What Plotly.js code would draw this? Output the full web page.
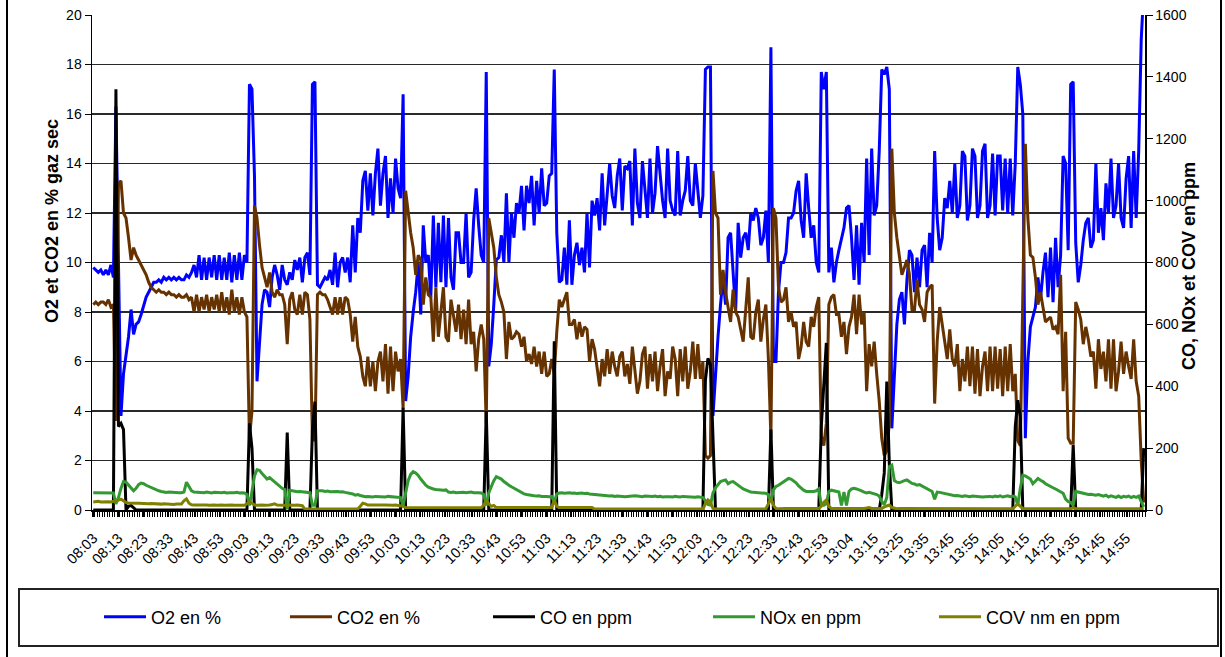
<!DOCTYPE html>
<html><head><meta charset="utf-8">
<script src="https://cdn.plot.ly/plotly-3.0.1.min.js"></script>
<style>html,body{margin:0;padding:0;background:#fff}#chart{width:1225px;height:657px}</style>
</head><body><div id="chart"></div>
<script>
const timeLabels = ["08:03","08:13","08:23","08:33","08:43","08:53","09:03","09:13","09:23","09:33","09:43","09:53","10:03","10:13","10:23","10:33","10:43","10:53","11:03","11:13","11:23","11:33","11:43","11:53","12:03","12:13","12:23","12:33","12:43","12:53","13:04","13:15","13:25","13:35","13:45","13:55","14:05","14:15","14:25","14:35","14:45","14:55"];

const o2 = [
9.8,9.7,9.6,9.7,9.5,9.7,9.5,9.9,9.4,16.3,
10,3.8,5.5,6.3,7.0,8.1,7.1,7.5,7.6,7.9,
8.3,8.6,8.8,9.0,9.2,9.2,9.3,9.2,9.4,9.3,
9.4,9.3,9.4,9.3,9.4,9.3,9.3,9.5,9.4,9.6,
9.9,9.4,10.3,9.3,10.2,9.3,10.2,9.4,10.3,9.3,
10.3,9.3,10.2,9.3,10.4,9.2,10.3,9.3,10.4,9.3,
10.3,10.0,17.2,17.0,13.5,5.2,6.9,8.3,8.9,8.8,
8.2,9.4,9.9,9.5,8.9,9.9,9.3,9.1,9.6,9.3,
10.1,9.7,10.2,9.2,10.2,10.4,9.5,17.2,17.3,9.1,
9.0,9.2,9.4,9.3,9.7,9.1,10.4,9.0,10.0,10.2,
9.6,10.2,9.2,11.5,9.6,11.8,11.2,13.3,13.7,12.1,
13.6,11.9,13.6,14.6,12.3,13.6,14.3,11.8,13.4,12.0,
14.2,13.0,12.6,16.8,4.4,5.4,7.0,8.0,8.8,10.0,
7.9,11.5,10.0,10.3,8.6,11.9,9.0,11.6,9.2,11.9,
9.0,11.8,9.4,8.9,11.2,11.2,10.0,10.0,12.0,9.4,
9.6,11.7,13.0,11.5,10.3,10.0,17.7,5.8,6.7,8.3,
10.1,10.2,11.1,10.0,12.8,10.0,12.0,11.0,12.4,12.0,
13.1,11.3,13.1,12.4,13.5,11.5,13.3,12.0,13.8,12.3,
12.4,13.5,13.6,17.8,11.2,9.2,9.3,10.6,9.1,11.7,
9.1,10.3,10.8,9.9,10.6,9.6,12.0,9.8,12.5,11.9,
12.6,11.3,13.6,11.5,12.6,14.0,12.7,12.2,13.5,14.2,
12.1,13.9,13.8,14.1,11.5,14.6,12.4,11.8,14.1,12.8,
11.8,14.2,12.0,12.8,14.7,13.6,12.5,11.8,14.6,12.5,
12.1,11.9,14.5,11.9,12.5,12.9,14.3,12.5,12.3,14.0,
12.9,11.8,12.7,17.8,17.9,17.9,3.8,5.6,7.0,8.3,
9.4,8.3,11.0,11.2,9.6,8.0,11.6,10.2,11.0,11.2,
10.5,12.0,11.7,12.2,11.8,10.7,11.0,12.1,10.0,18.7,
6.0,6.0,8.8,10.0,10.0,10.4,11.8,11.8,12.0,12.9,
13.3,11.7,11.0,13.6,12.2,11.0,11.5,10.0,9.6,17.7,
17.0,17.7,9.6,10.6,9.2,10.0,10.5,11.0,11.4,12.2,
12.3,11.0,9.3,11.5,9.1,11.6,10.0,14.2,10.3,14.6,
11.9,12.3,14.5,17.8,17.6,17.9,17.0,3.3,5.6,7.5,
8.5,8.8,7.5,9.3,10.5,10.3,8.8,10.2,9.0,10.5,
10.7,9.0,11.2,10.0,14.5,11.8,10.5,11.0,12.6,12.2,
13.3,12.0,14.0,11.8,12.3,14.5,14.3,11.7,12.3,14.6,
14.3,11.8,12.3,14.5,14.8,11.8,12.3,14.4,11.9,14.3,
14.3,12.1,14.2,12.0,14.2,11.9,14.0,17.9,17.2,16.0,
2.9,6.0,7.4,7.8,8.2,9.4,8.5,9.6,10.4,8.6,
10.6,8.4,11.0,9.0,10.3,14.3,14.0,10.5,17.2,17.3,
10.8,9.2,9.9,10.9,11.6,11.8,10.6,10.9,14.0,11.2,
12.2,10.9,13.2,12.0,14.2,11.8,12.3,14.0,11.8,11.4,
13.4,14.3,11.4,14.5,11.8,14.5,19.0,21
];

const co2 = [
8.3,8.4,8.3,8.4,8.4,8.3,8.5,8.2,8.3,3.6,
13.2,13.3,12.0,11.8,11.0,10.1,10.6,10.3,10.1,9.9,
9.7,9.5,9.2,9.0,8.9,8.8,8.9,8.8,8.8,8.7,
8.8,8.7,8.7,8.6,8.7,8.6,8.6,8.7,8.5,8.6,
8.0,8.7,8.0,8.6,8.1,8.7,8.0,8.6,8.1,8.7,
8.0,8.8,8.0,8.6,7.9,8.9,8.0,8.6,7.9,8.6,
8.0,7.8,2.9,4.0,12.3,11.8,10.7,9.8,9.4,9.0,
9.6,8.8,8.6,8.9,8.7,8.7,8.3,6.7,8.5,8.8,
8.1,7.9,8.7,7.9,8.8,8.7,7.7,2.9,2.8,8.7,
8.8,8.7,8.7,8.5,8.2,7.9,8.6,7.9,8.6,7.9,
8.6,8.5,7.9,6.8,7.8,6.6,6.2,5.4,5.0,6.2,
5.0,6.0,4.8,6.0,6.4,5.2,6.7,4.7,6.6,4.8,
6.4,5.6,6.1,4.1,12.9,12.0,11.2,10.6,9.5,10.3,
10.1,8.3,9.4,8.7,8.6,6.8,9.0,7.0,7.9,9.0,
7.0,6.8,8.5,7.9,7.2,8.3,6.9,8.1,6.7,8.5,
6.7,7.2,5.6,6.9,7.5,6.9,3.5,11.8,11.1,10.6,
9.4,8.7,8.4,8.0,6.1,7.6,6.9,7.0,7.2,7.1,
6.6,7.0,6.0,6.3,5.9,6.6,5.8,6.4,5.5,6.4,
5.4,5.5,6.1,5.5,7.2,8.5,8.2,8.5,8.8,7.5,
7.5,7.7,6.9,7.6,7.0,7.4,7.3,6.0,6.9,6.5,
5.8,5.0,6.1,5.4,6.5,5.5,6.4,5.8,5.4,6.2,
6.4,5.4,5.9,5.1,6.6,5.5,4.7,5.2,6.3,6.6,
4.9,6.3,5.2,6.4,4.8,5.8,6.5,4.6,5.6,5.3,
6.6,6.1,4.6,6.5,5.2,6.6,4.9,5.6,6.8,5.3,
6.7,5.3,6.0,2.2,2.1,2.2,13.7,12.0,11.8,8.7,
9.7,8.8,8.2,7.6,8.9,8.0,7.8,7.3,6.8,8.1,
9.4,7.0,6.9,8.0,8.5,6.8,7.7,8.3,6.1,2.9,
12.2,11.8,9.0,8.4,8.5,9.0,7.6,8.0,7.4,7.6,
6.1,6.6,7.6,6.8,6.6,7.8,7.4,8.2,8.6,3.0,
2.6,3.5,8.3,8.6,8.7,7.9,7.9,7.0,7.6,6.3,
7.4,7.8,8.7,7.1,8.7,7.5,8.0,4.8,6.7,5.8,
6.8,5.5,4.4,2.9,2.2,2.4,3.5,14.6,12.0,11.0,
10.3,9.5,9.8,10.1,9.5,8.1,8.1,9.3,8.3,8.1,
7.6,8.8,9.0,9.1,4.3,6.8,8.2,7.5,6.9,6.1,
7.3,6.1,5.8,6.7,4.8,6.1,5.2,6.6,5.0,6.6,
4.7,6.5,4.6,5.8,6.4,4.8,6.6,4.8,6.6,4.9,
6.5,4.6,6.6,4.8,6.7,4.8,5.5,2.8,2.6,9.0,
14.8,11.8,10.3,10.2,9.4,8.3,8.8,8.2,7.6,7.7,
7.8,7.3,7.4,7.1,9.5,4.8,7.2,2.9,2.7,2.7,
8.4,8.1,7.7,6.7,7.4,6.9,6.2,6.4,4.9,6.9,
5.7,6.4,5.2,6.9,4.9,6.9,4.8,5.6,6.8,5.5,
6.4,5.8,5.3,6.9,5.2,4.6,2.0,0.3
];

const coPpm = [
0,0,0,0,0,0,0,0,0,1360,
270,280,260,0,12,15,8,0,0,0,
0,0,0,0,0,0,0,0,0,0,
0,0,0,0,0,0,0,0,0,0,
0,0,0,0,0,0,0,0,0,0,
0,0,0,0,0,0,0,0,0,0,
0,0,280,200,0,0,0,0,0,0,
0,0,0,0,0,0,0,250,0,0,
0,0,0,0,0,0,0,260,350,0,
0,0,0,0,0,0,0,0,0,0,
0,0,0,0,0,0,0,0,0,0,
0,0,0,0,0,0,0,0,0,0,
0,0,0,330,0,0,0,0,0,0,
0,0,0,0,0,0,0,0,0,0,
0,0,0,0,0,0,0,0,0,0,
0,0,0,0,0,0,320,0,0,0,
0,0,0,0,0,0,0,0,0,0,
0,0,0,0,0,0,0,0,0,0,
0,0,0,545,0,0,0,0,0,0,
0,0,0,0,0,0,0,0,0,0,
0,0,0,0,0,0,0,0,0,0,
0,0,0,0,0,0,0,0,0,0,
0,0,0,0,0,0,0,0,0,0,
0,0,0,0,0,0,0,0,0,0,
0,0,0,420,490,470,200,0,0,0,
0,0,0,0,0,0,0,0,0,0,
0,0,0,0,0,0,0,0,0,260,
0,0,0,0,0,0,0,0,0,0,
0,0,0,0,0,0,0,0,0,270,
400,540,0,0,0,0,0,0,0,0,
0,0,0,0,0,0,0,0,0,0,
0,0,0,50,120,415,150,0,0,0,
0,0,0,0,0,0,0,0,0,0,
0,0,0,0,0,0,0,0,0,0,
0,0,0,0,0,0,0,0,0,0,
0,0,0,0,0,0,0,0,0,0,
0,0,0,0,0,0,270,355,300,0,
0,0,0,0,0,0,0,0,0,0,
0,0,0,0,0,0,0,0,0,210,
0,0,0,0,0,0,0,0,0,0,
0,0,0,0,0,0,0,0,0,0,
0,0,0,0,0,0,0,200
];

const noxPpm = [
56,56,56,56,56,56,56,56,55,20,
40,70,92,90,80,72,62,70,82,87,
85,80,76,72,68,64,62,60,58,57,
58,57,56,57,56,56,58,90,75,62,
58,57,56,57,56,58,56,55,57,56,
55,56,57,55,56,55,56,57,55,56,
55,50,15,60,110,130,128,118,108,100,
105,98,90,84,76,70,66,2,64,62,
60,59,60,59,60,58,56,15,15,62,
63,62,60,61,59,60,59,60,58,59,
57,56,54,52,48,50,47,44,43,44,
43,42,44,43,44,43,42,44,43,44,
43,42,40,15,50,95,115,124,120,112,
100,88,80,74,70,68,66,65,66,64,
65,58,57,58,56,57,58,57,56,57,
58,56,57,56,55,50,15,55,75,95,
108,105,100,92,85,80,75,70,66,60,
55,52,50,48,47,46,45,46,44,45,
44,43,44,25,52,55,56,54,55,56,
54,55,53,54,55,53,54,52,51,50,
49,48,47,46,47,45,46,44,45,44,
45,43,44,45,44,46,45,44,43,45,
44,43,44,45,43,44,42,43,44,43,
42,44,43,42,44,43,42,43,42,41,
43,42,40,30,18,16,55,72,82,92,
95,97,85,90,92,85,80,74,68,64,
60,58,57,56,57,56,55,54,50,25,
65,76,80,85,92,97,102,100,95,88,
78,70,64,60,60,59,60,62,68,15,
15,20,60,64,62,60,58,15,58,15,
60,68,70,68,66,62,58,55,57,55,
52,50,45,28,18,40,140,145,95,90,
88,92,95,97,92,86,84,80,82,78,
72,68,65,60,35,58,57,55,53,52,
50,48,46,47,45,44,46,44,43,45,
44,43,44,42,43,44,44,42,45,43,
46,42,44,46,43,45,42,15,70,112,
110,105,100,85,95,102,96,92,85,80,
76,72,68,64,60,54,35,27,25,15,
60,58,56,55,52,50,51,50,48,50,
47,45,48,42,46,44,41,45,40,44,
42,45,40,44,41,45,25,10
];

const covPpm = [
26,27,28,26,27,28,27,26,27,30,
32,35,30,24,23,22,23,22,22,21,
22,21,20,21,20,21,20,19,20,19,
20,19,18,19,18,19,30,36,22,17,
16,17,16,16,17,16,15,16,16,15,
16,16,15,16,15,16,15,15,16,15,
15,20,27,22,16,15,16,16,15,15,
16,18,20,16,15,16,15,16,15,16,
15,16,15,14,3,3,2,3,3,2,
3,3,2,3,3,2,3,3,2,3,
3,2,3,3,3,3,12,22,20,16,
16,15,16,16,15,16,16,15,16,15,
16,15,14,12,8,8,7,8,8,7,
8,8,7,8,8,7,8,8,7,8,
8,8,7,8,8,7,8,8,7,8,
8,7,8,8,7,15,32,20,12,15,
8,8,7,8,8,7,8,8,7,8,
8,7,8,8,7,8,8,7,8,8,
7,8,8,32,12,8,8,7,8,8,
7,8,8,7,8,8,7,8,8,3,
3,3,4,3,3,4,3,3,4,3,
3,4,3,3,4,3,3,4,3,3,
4,3,3,4,3,3,4,3,3,4,
3,3,4,3,3,4,3,3,4,3,
3,4,3,20,32,25,5,4,3,4,
3,3,4,3,3,4,3,3,4,3,
3,4,3,3,4,3,3,4,20,38,
15,5,4,5,4,5,5,4,5,5,
4,5,5,4,5,5,4,5,5,12,
25,32,12,5,5,4,5,5,4,5,
5,4,5,5,4,5,5,6,8,5,
5,4,5,5,10,12,16,8,5,4,
5,5,4,5,5,4,5,5,4,5,
5,4,5,5,4,5,5,4,5,5,
4,5,5,4,5,5,4,5,5,4,
5,5,4,5,5,4,4,4,5,4,
4,5,4,4,5,4,12,20,12,5,
4,4,5,4,4,5,4,4,5,4,
4,5,4,4,5,4,4,5,4,8,
4,4,5,4,4,5,4,4,5,4,
4,5,4,4,5,4,4,5,4,4,
5,4,4,5,4,4,5,4
];

const seriesNames = ["O2 en %","CO2 en %","CO en ppm","NOx en ppm","COV nm en ppm"];
const seriesColors = ["#0000FF","#663300","#000000","#339933","#808000"];

const FONT = "Liberation Sans, Arial, Helvetica, sans-serif";
const W = 1225, H = 657;
const M = {l:92, r:80, t:15, b:147};
const PW = W - M.l - M.r, PH = H - M.t - M.b;
const px2x = p => (p - M.l) / PW;
const px2y = p => (H - M.b - p) / PH;

const xIdx = o2.map((_, i) => i);
const allY = [o2, co2, coPpm, noxPpm, covPpm];
const axes = ["y","y","y2","y2","y2"];
const legendIds = ["legend","legend2","legend3","legend4","legend5"];
const legendPx = [99, 285, 488, 708, 934];

const traces = allY.map((ys, k) => ({
  x: xIdx, y: ys, type: "scatter", mode: "lines",
  name: seriesNames[k], yaxis: axes[k], legend: legendIds[k],
  line: {color: seriesColors[k], width: 3},
  hoverinfo: "skip"
}));

const layout = {
  width: W, height: H,
  margin: M,
  paper_bgcolor: "#fff", plot_bgcolor: "#fff",
  font: {family: FONT, color: "#000", size: 13},
  showlegend: true,
  xaxis: {
    range: [-0.5, o2.length - 0.5],
    tickmode: "array",
    tickvals: timeLabels.map((_, k) => k * 10),
    ticktext: timeLabels,
    tickangle: -45,
    ticks: "outside", ticklen: 5, tickcolor: "#000", tickwidth: 1,
    ticklabelstandoff: 7,
    showline: true, linecolor: "#000", linewidth: 2,
    showgrid: false, zeroline: false,
    tickfont: {size: 14.5, color: "#000", family: FONT},
    minor: {tickmode: "linear", tick0: -0.5, dtick: 1, ticks: "outside", ticklen: 5, tickcolor: "#000", tickwidth: 1, showgrid: false}
  },
  yaxis: {
    range: [0, 20], tick0: 0, dtick: 2,
    ticks: "outside", ticklen: 6, tickcolor: "#000",
    showline: true, linecolor: "#000", linewidth: 1.5,
    showgrid: true, gridcolor: "#2a2a2a", gridwidth: 1.2,
    zeroline: false,
    tickfont: {size: 14, color: "#000", family: FONT}
  },
  yaxis2: {
    range: [0, 1600], tick0: 0, dtick: 200,
    overlaying: "y", side: "right",
    ticks: "outside", ticklen: 6, tickcolor: "#000",
    showline: true, linecolor: "#000", linewidth: 1.5,
    showgrid: false, zeroline: false,
    tickfont: {size: 14, color: "#000", family: FONT}
  },
  annotations: [
    {text: "O2 et CO2 en % gaz sec", xref: "paper", yref: "paper",
     x: px2x(40), y: px2y(221), textangle: -90, showarrow: false,
     font: {size: 18, family: FONT, color: "#000", weight: "bold"}},
    {text: "CO, NOx et COV en ppm", xref: "paper", yref: "paper",
     x: px2x(1201), y: px2y(160), textangle: -90, showarrow: false,
     font: {size: 18, family: FONT, color: "#000", weight: "bold"}}
  ],
  shapes: [
    {type: "rect", xref: "paper", yref: "paper",
     x0: px2x(19), x1: px2x(1218), y0: px2y(589), y1: px2y(646),
     line: {color: "#222", width: 2}, fillcolor: "rgba(0,0,0,0)"},
    {type: "line", xref: "paper", yref: "paper",
     x0: px2x(7), x1: px2x(7), y0: px2y(0), y1: px2y(657),
     line: {color: "#000", width: 2}},
    {type: "line", xref: "paper", yref: "paper",
     x0: px2x(1221), x1: px2x(1221), y0: px2y(0), y1: px2y(657),
     line: {color: "#000", width: 2}}
  ]
};

legendIds.forEach((id, k) => {
  layout[id] = {
    x: px2x(legendPx[k]), xanchor: "left",
    y: px2y(617), yanchor: "middle",
    orientation: "h", bgcolor: "rgba(0,0,0,0)", borderwidth: 0,
    itemwidth: 42,
    font: {size: 18, family: FONT, color: "#000"}
  };
});

Plotly.newPlot("chart", traces, layout, {staticPlot: true, displayModeBar: false});
</script>
</body></html>
